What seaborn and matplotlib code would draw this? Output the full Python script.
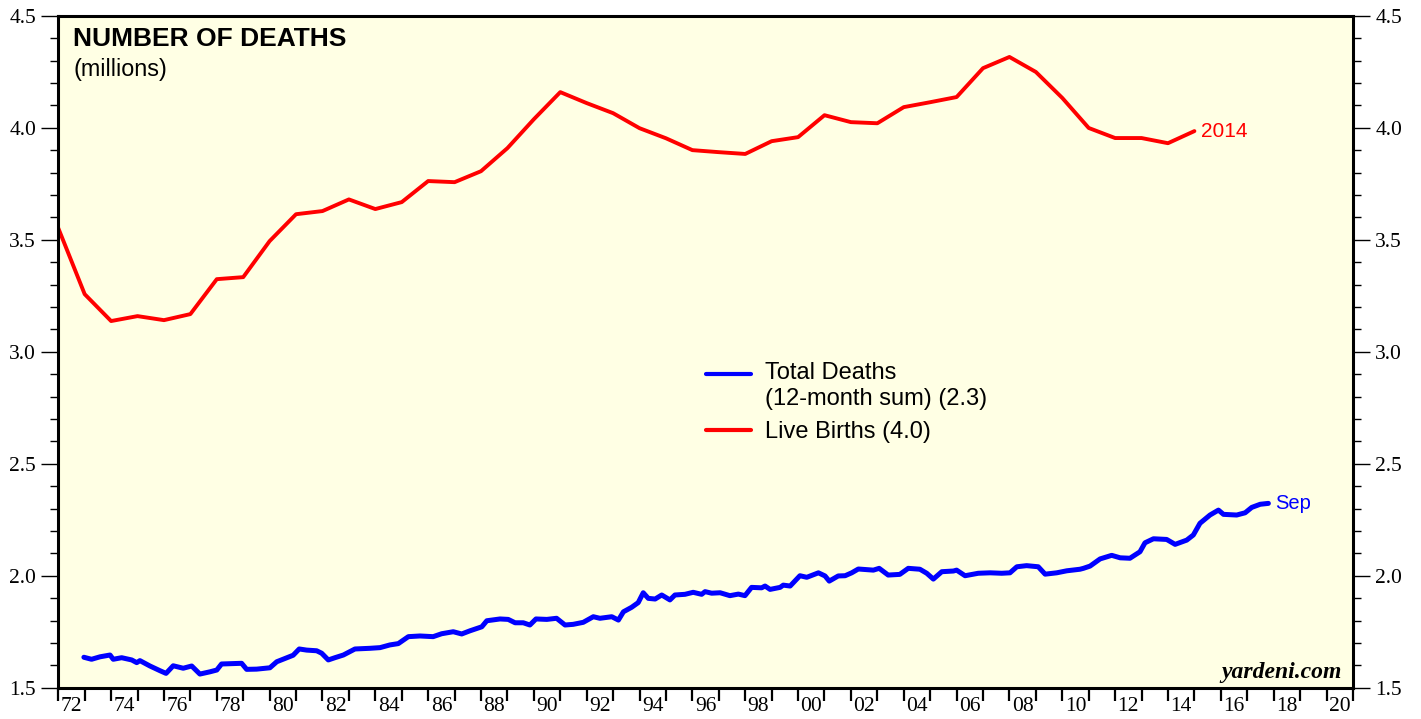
import numpy as np
import pandas as pd
import seaborn as sns
from matplotlib import pyplot as plt
from matplotlib.ticker import MultipleLocator, FixedLocator, FixedFormatter, FormatStrFormatter

# live births (millions), annual, plotted at the end of each year
birth_years = list(range(1971, 2015))
births = [3.552, 3.257, 3.137, 3.159, 3.141, 3.168, 3.324, 3.333, 3.494, 3.614,
          3.628, 3.680, 3.637, 3.668, 3.762, 3.757, 3.806, 3.909, 4.038, 4.159,
          4.110, 4.065, 3.998, 3.953, 3.900, 3.891, 3.883, 3.940, 3.958, 4.056,
          4.025, 4.020, 4.092, 4.114, 4.137, 4.266, 4.316, 4.249, 4.133, 3.999,
          3.954, 3.954, 3.931, 3.985]

# total deaths, 12-month sum (millions)
death_dates = [1972.97, 1973.26, 1973.58, 1973.96, 1974.08, 1974.40, 1974.78, 1974.97,
               1975.09, 1975.47, 1975.85, 1976.08, 1976.35, 1976.73, 1977.05, 1977.36,
               1977.74, 1978.00, 1978.18, 1978.94, 1979.13, 1979.51, 1980.01, 1980.27,
               1980.65, 1980.89, 1981.12, 1981.40, 1981.78, 1981.97, 1982.22, 1982.47,
               1982.79, 1983.23, 1983.80, 1984.18, 1984.55, 1984.87, 1985.25, 1985.69,
               1986.19, 1986.51, 1986.95, 1987.27, 1987.58, 1988.03, 1988.22, 1988.72,
               1989.03, 1989.29, 1989.60, 1989.85, 1990.08, 1990.49, 1990.86, 1991.18,
               1991.49, 1991.87, 1992.25, 1992.50, 1992.95, 1993.20, 1993.39, 1993.70,
               1993.95, 1994.14, 1994.33, 1994.59, 1994.84, 1995.15, 1995.34, 1995.72,
               1996.03, 1996.35, 1996.48, 1996.73, 1997.05, 1997.42, 1997.74, 1997.99,
               1998.24, 1998.62, 1998.75, 1998.94, 1999.32, 1999.44, 1999.70, 2000.07,
               2000.33, 2000.77, 2001.02, 2001.18, 2001.52, 2001.78, 2002.03, 2002.28,
               2002.85, 2003.07, 2003.41, 2003.85, 2004.17, 2004.61, 2004.87, 2005.12,
               2005.44, 2005.88, 2006.00, 2006.32, 2006.82, 2007.27, 2007.71, 2008.02,
               2008.28, 2008.65, 2009.09, 2009.35, 2009.79, 2010.17, 2010.67, 2010.80,
               2011.05, 2011.43, 2011.87, 2012.19, 2012.56, 2012.94, 2013.13, 2013.45,
               2013.95, 2014.27, 2014.71, 2014.96, 2015.21, 2015.59, 2015.91, 2016.10,
               2016.60, 2016.92, 2017.17, 2017.49, 2017.80]
deaths = [1.636, 1.627, 1.638, 1.646, 1.627, 1.634, 1.624, 1.612,
          1.621, 1.597, 1.576, 1.564, 1.598, 1.587, 1.597, 1.561,
          1.571, 1.579, 1.606, 1.609, 1.582, 1.583, 1.589, 1.616,
          1.634, 1.645, 1.673, 1.668, 1.665, 1.654, 1.624, 1.634,
          1.646, 1.673, 1.676, 1.679, 1.691, 1.697, 1.728, 1.731,
          1.728, 1.741, 1.750, 1.740, 1.754, 1.772, 1.799, 1.807,
          1.805, 1.790, 1.790, 1.780, 1.807, 1.805, 1.810, 1.780,
          1.783, 1.792, 1.817, 1.810, 1.817, 1.802, 1.839, 1.859,
          1.880, 1.924, 1.899, 1.896, 1.914, 1.892, 1.914, 1.917,
          1.926, 1.917, 1.929, 1.922, 1.924, 1.911, 1.918, 1.911,
          1.948, 1.946, 1.954, 1.939, 1.948, 1.958, 1.954, 2.000,
          1.993, 2.013, 1.999, 1.976, 1.999, 2.000, 2.013, 2.030,
          2.025, 2.033, 2.003, 2.006, 2.033, 2.029, 2.011, 1.985,
          2.018, 2.021, 2.025, 2.000, 2.011, 2.013, 2.011, 2.013,
          2.040, 2.045, 2.040, 2.007, 2.013, 2.022, 2.029, 2.033,
          2.043, 2.075, 2.091, 2.080, 2.078, 2.107, 2.147, 2.165,
          2.162, 2.140, 2.159, 2.182, 2.234, 2.271, 2.293, 2.274,
          2.271, 2.281, 2.305, 2.319, 2.323]

year_labels = [str(y)[2:] for y in range(1972, 2021, 2)]

sns.set_style("ticks")
plt.rcParams['font.family'] = ['Liberation Sans', 'DejaVu Sans']
plt.rcParams.update({"text.color": "black", "xtick.color": "black",
                     "ytick.color": "black", "axes.edgecolor": "black"})

df_births = pd.DataFrame({"date": [y + 1 for y in birth_years], "value": births})
df_deaths = pd.DataFrame({"date": death_dates, "value": deaths})

fig = plt.figure(figsize=(14.21, 7.19), dpi=100)
ax = fig.add_axes([0.0410, 0.0435, 0.9111, 0.9346])
ax.set_facecolor("#FFFFE4")

sns.lineplot(data=df_deaths, x="date", y="value", ax=ax, color="#0000FF", lw=3.6,
             label="Total Deaths\n(12-month sum) (2.3)")
sns.lineplot(data=df_births, x="date", y="value", ax=ax, color="#FF0000", lw=2.8,
             label="Live Births (4.0)")

ax.set_xlim(1972, 2021)
ax.set_ylim(1.5, 4.5)
ax.set_xlabel("")
ax.set_ylabel("")

# x: a tick at every year, labels centred in even years
ax.xaxis.set_major_locator(MultipleLocator(1))
ax.xaxis.set_minor_locator(FixedLocator([y + 0.5 for y in range(1972, 2021, 2)]))
ax.xaxis.set_minor_formatter(FixedFormatter(year_labels))
ax.tick_params(axis="x", which="major", direction="out", length=9, width=1.6,
               labelbottom=False)
ax.tick_params(axis="x", which="minor", length=0, pad=7, labelsize=15.5)

ax.yaxis.set_major_locator(MultipleLocator(0.5))
ax.yaxis.set_minor_locator(MultipleLocator(0.1))
ax.yaxis.set_major_formatter(FormatStrFormatter("%.1f"))
ax.tick_params(axis="y", which="major", direction="out", length=12, width=1.0,
               left=True, right=True, labelleft=True, labelright=True,
               labelsize=15.5, pad=4)
ax.tick_params(axis="y", which="minor", direction="out", length=6, width=1.0,
               left=True, right=True)
for lab in ax.get_xticklabels(minor=True) + ax.get_yticklabels():
    lab.set_family("Liberation Serif")

for s in ax.spines.values():
    s.set_visible(True)
    s.set_linewidth(2.2)
    s.set_color("black")

ax.text(0.0114, 0.983, "NUMBER OF DEATHS", transform=ax.transAxes, ha="left", va="top",
        fontsize=19, fontweight="bold")
ax.text(0.0114, 0.937, "(millions)", transform=ax.transAxes, ha="left", va="top",
        fontsize=16.8)

ax.annotate("2014", xy=(df_births["date"].iloc[-1], births[-1]), xytext=(5, 0),
            textcoords="offset points", color="#FF0000", va="center", fontsize=15)
ax.annotate("Sep", xy=(death_dates[-1], deaths[-1]), xytext=(5, 0),
            textcoords="offset points", color="#0000FF", va="center", fontsize=14.5)

ax.text(0.9915, 0.0145, "yardeni.com", transform=ax.transAxes, ha="right", va="baseline",
        fontsize=17, fontweight="bold", style="italic", family="Liberation Serif")

leg = ax.legend(loc="upper left", bbox_to_anchor=(0.484, 0.516), frameon=False,
                fontsize=17, handlelength=1.9, handletextpad=0.6, labelspacing=0.5)
for line in leg.get_lines():
    line.set_linewidth(3)
# keep the deaths key level with the first line of its two-line label
first = leg.get_lines()[0]
first.set_ydata([v + 9 for v in first.get_ydata()])

fig.savefig("out.png", dpi=100, facecolor="white")
